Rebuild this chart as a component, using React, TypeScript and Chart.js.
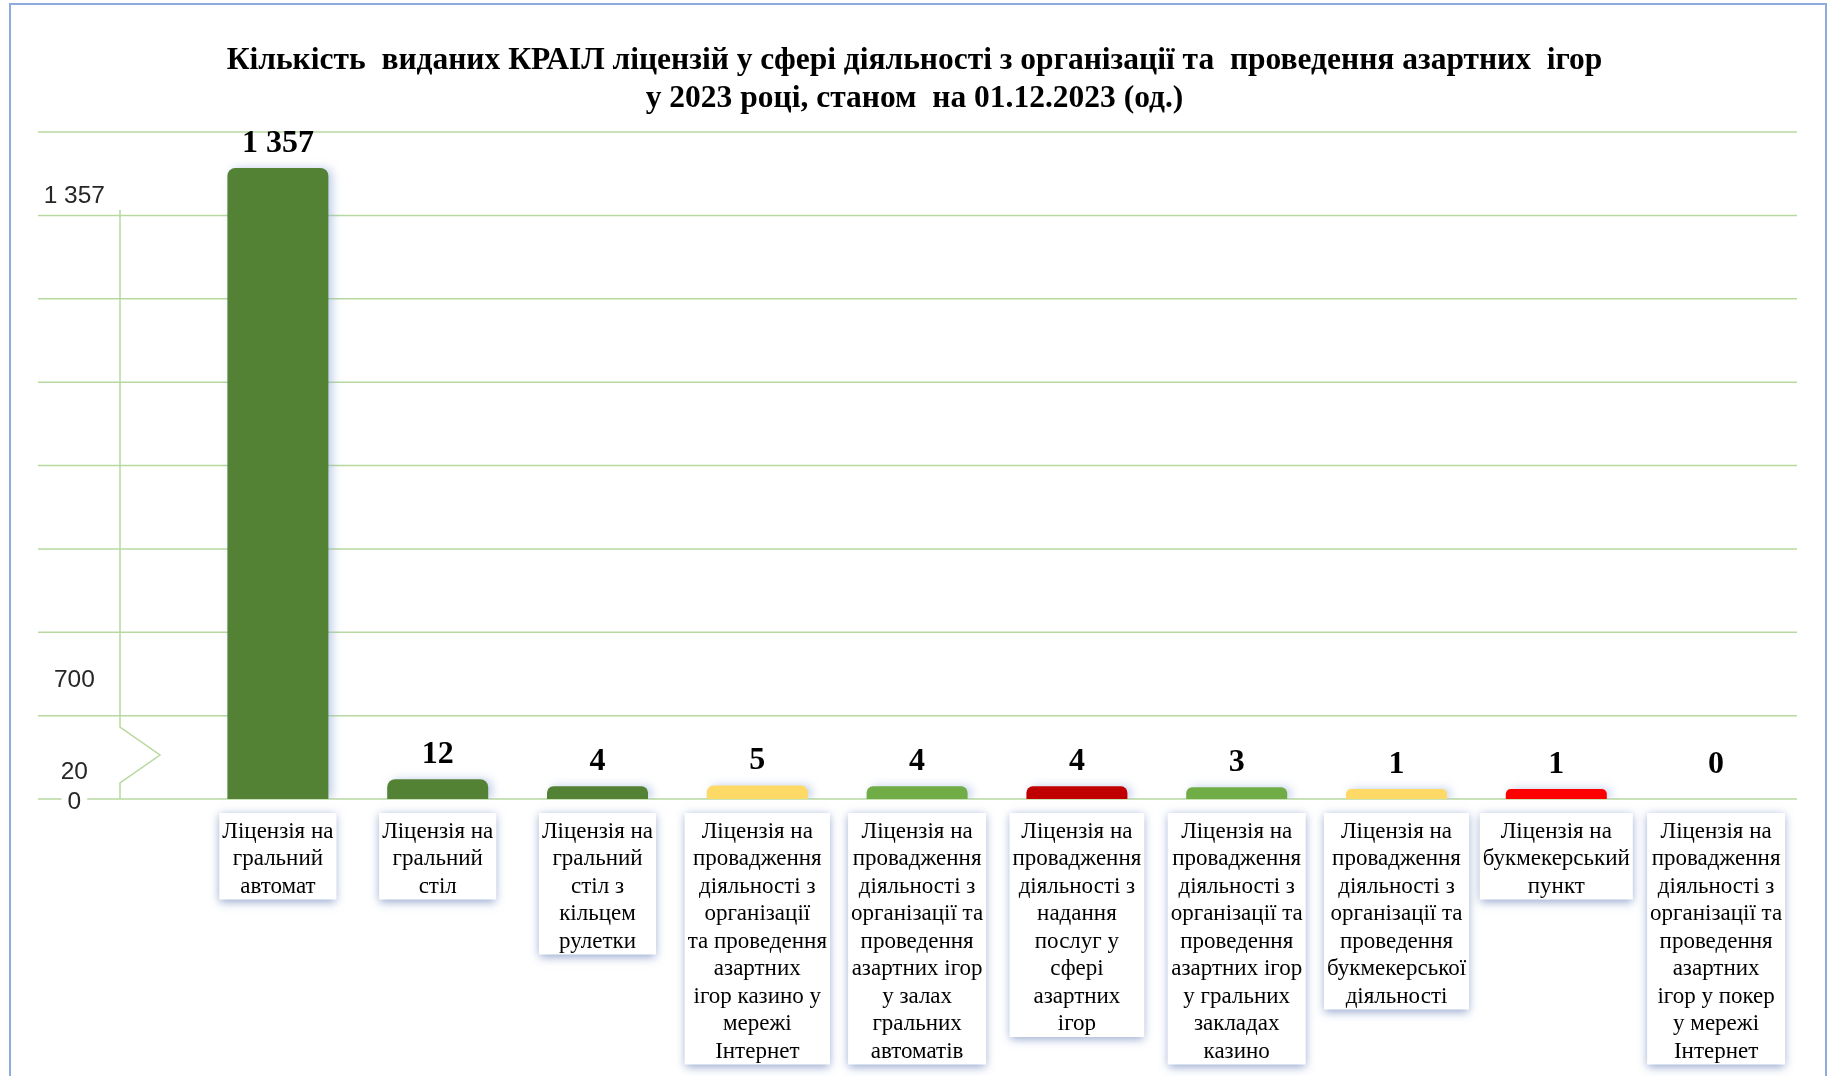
import React, { useEffect, useRef } from 'react';
import { Chart, registerables, LinearScale } from 'chart.js';

// ---------------- data ----------------
const titleLines: string[] = [
  'Кількість  виданих КРАІЛ ліцензій у сфері діяльності з організації та  проведення азартних  ігор',
  'у 2023 році, станом  на 01.12.2023 (од.)',
];

const categories: string[][] = [
  ['Ліцензія на', 'гральний', 'автомат'],
  ['Ліцензія на', 'гральний', 'стіл'],
  ['Ліцензія на', 'гральний', 'стіл з', 'кільцем', 'рулетки'],
  ['Ліцензія на', 'провадження', 'діяльності з', 'організації', 'та проведення', 'азартних', 'ігор казино у', 'мережі', 'Інтернет'],
  ['Ліцензія на', 'провадження', 'діяльності з', 'організації та', 'проведення', 'азартних ігор', 'у залах', 'гральних', 'автоматів'],
  ['Ліцензія на', 'провадження', 'діяльності з', 'надання', 'послуг у', 'сфері', 'азартних', 'ігор'],
  ['Ліцензія на', 'провадження', 'діяльності з', 'організації та', 'проведення', 'азартних ігор', 'у гральних', 'закладах', 'казино'],
  ['Ліцензія на', 'провадження', 'діяльності з', 'організації та', 'проведення', 'букмекерської', 'діяльності'],
  ['Ліцензія на', 'букмекерський', 'пункт'],
  ['Ліцензія на', 'провадження', 'діяльності з', 'організації та', 'проведення', 'азартних', 'ігор у покер', 'у мережі', 'Інтернет'],
];

const licenseCounts: number[] = [1357, 12, 4, 5, 4, 4, 3, 1, 1, 0];

const yTickValues: number[] = [0, 20, 700, 1357];

// ---------------- styles / layout ----------------
const barColors: string[] = [
  '#548235', '#548235', '#548235', '#FFD966', '#70AD47',
  '#C00000', '#70AD47', '#FFD966', '#FF0000', '#548235',
];

// broken value axis: value breakpoints and their place on the axis (fraction of its height)
const AXIS_BREAK_VALUES = [0, 1, 20, 700, 1357];
const AXIS_BREAK_FRACTIONS = [0, 0.015, 0.0405, 0.1784, 0.946];
const TICK_LABEL_SHIFT: Record<number, number> = { 0: 3, 1357: 28 };

const GRID_COLOR = '#B7D99F';
const SERIF = '"Liberation Serif", "Times New Roman", serif';
const SANS = '"Liberation Sans", Arial, sans-serif';
const X_FONT_SIZE = 23;
const X_LINE_HEIGHT = 27.5;
const X_TICK_PAD = 19;
const Y_FONT_SIZE = 24.5;

const fmt = (v: number) => String(v).replace(/\B(?=(\d{3})+(?!\d))/g, ' ');

function interp(x: number, xs: number[], ys: number[]) {
  const n = xs.length - 1;
  if (x <= xs[0]) return ys[0] + ((x - xs[0]) * (ys[1] - ys[0])) / (xs[1] - xs[0]);
  for (let i = 1; i <= n; i++) {
    if (x <= xs[i]) {
      const t = (x - xs[i - 1]) / (xs[i] - xs[i - 1]);
      return ys[i - 1] + t * (ys[i] - ys[i - 1]);
    }
  }
  return ys[n] + ((x - xs[n]) * (ys[n] - ys[n - 1])) / (xs[n] - xs[n - 1]);
}

class BrokenLinearScale extends LinearScale {
  static id = 'brokenLinear';
  static defaults = LinearScale.defaults;
  getPixelForValue(value: number) {
    if (value === null || value === undefined || isNaN(value)) return NaN;
    return this.getPixelForDecimal(interp(value, AXIS_BREAK_VALUES, AXIS_BREAK_FRACTIONS));
  }
  getValueForPixel(pixel: number) {
    return interp(this.getDecimalForPixel(pixel), AXIS_BREAK_FRACTIONS, AXIS_BREAK_VALUES);
  }
  getPixelForTick(index: number) {
    const t: any = (this as any).ticks[index];
    if (!t) return NaN;
    return this.getPixelForValue(t.value) + (TICK_LABEL_SHIFT[t.value] || 0);
  }
}

Chart.register(...registerables, BrokenLinearScale as any);

const decorPlugin = {
  id: 'decor',
  beforeDraw(chart: any) {
    const { ctx, chartArea } = chart;
    const { left, right, top, bottom } = chartArea;
    ctx.save();
    ctx.fillStyle = '#ffffff';
    ctx.fillRect(0, 0, chart.width, chart.height);

    // outer frame
    ctx.strokeStyle = '#8FAADC';
    ctx.lineWidth = 2;
    ctx.strokeRect(10, 4, chart.width - 13, chart.height + 40);

    // horizontal grid: 8 equal bands
    ctx.strokeStyle = GRID_COLOR;
    ctx.lineWidth = 1.5;
    for (let k = 0; k <= 8; k++) {
      const y = bottom - (k * (bottom - top)) / 8;
      ctx.beginPath();
      ctx.moveTo(38, y);
      ctx.lineTo(right + 1, y);
      ctx.stroke();
    }

    // broken value axis line
    const ax = left - 78;
    ctx.beginPath();
    ctx.moveTo(ax, top + 78);
    ctx.lineTo(ax, bottom - 72);
    ctx.lineTo(ax + 40, bottom - 44);
    ctx.lineTo(ax, bottom - 16);
    ctx.lineTo(ax, bottom);
    ctx.stroke();

    // category label boxes
    const xs = chart.scales.x;
    ctx.font = `${X_FONT_SIZE}px ${SERIF}`;
    categories.forEach((lines, i) => {
      const cx = xs.getPixelForTick(i);
      const w = Math.max(...lines.map((l) => ctx.measureText(l).width)) + 6;
      const y0 = xs.top + X_TICK_PAD - 5;
      const h = lines.length * X_LINE_HEIGHT + 4;
      ctx.save();
      ctx.shadowColor = 'rgba(60,95,165,0.55)';
      ctx.shadowBlur = 9;
      ctx.shadowOffsetX = 0;
      ctx.shadowOffsetY = 2;
      ctx.fillStyle = '#ffffff';
      ctx.fillRect(cx - w / 2, y0, w, h);
      ctx.restore();
    });
    ctx.restore();
  },
  beforeDatasetsDraw(chart: any) {
    const { ctx } = chart;
    ctx.save();
    ctx.shadowColor = 'rgba(140,165,215,0.55)';
    ctx.shadowBlur = 10;
    ctx.shadowOffsetX = 4;
    ctx.shadowOffsetY = 0;
  },
  afterDatasetsDraw(chart: any) {
    const { ctx } = chart;
    ctx.restore();
    const meta = chart.getDatasetMeta(0);
    ctx.save();
    ctx.font = `bold 32px ${SERIF}`;
    ctx.fillStyle = '#000';
    ctx.textAlign = 'center';
    ctx.textBaseline = 'middle';
    meta.data.forEach((bar: any, i: number) => {
      const yTop = Math.min(bar.y, bar.base - 10);
      ctx.fillText(fmt(licenseCounts[i]), bar.x, yTop - 24.5);
    });
    ctx.restore();
  },
};

export default function App() {
  const ref = useRef<HTMLCanvasElement | null>(null);

  useEffect(() => {
    if (!ref.current) return;
    const maxLines = Math.max(...categories.map((c) => c.length));
    const chart = new Chart(ref.current, {
      type: 'bar',
      data: {
        labels: categories,
        datasets: [
          {
            data: licenseCounts,
            backgroundColor: barColors,
            borderWidth: 0,
            borderRadius: 8,
            borderSkipped: 'start',
            categoryPercentage: 1,
            barPercentage: 0.632,
          },
        ],
      },
      options: {
        animation: false,
        responsive: false,
        devicePixelRatio: 1,
        layout: { padding: { left: 33, right: 33, top: 0, bottom: 10.5 } },
        plugins: {
          legend: { display: false },
          tooltip: { enabled: false },
          title: {
            display: true,
            text: titleLines,
            color: '#000',
            font: { family: SERIF, size: 31.5, weight: 'bold', lineHeight: 38 / 31.5 },
            padding: { top: 42, bottom: 14 },
          },
        },
        scales: {
          x: {
            grid: { display: false, drawTicks: false },
            border: { display: false },
            afterFit: (scale: any) => {
              scale.height = X_TICK_PAD + maxLines * X_LINE_HEIGHT;
            },
            ticks: {
              autoSkip: false,
              maxRotation: 0,
              minRotation: 0,
              padding: X_TICK_PAD,
              color: '#000',
              font: { family: SERIF, size: X_FONT_SIZE, lineHeight: X_LINE_HEIGHT / X_FONT_SIZE },
            },
          },
          y: {
            type: 'brokenLinear' as any,
            min: 0,
            max: 1357,
            grid: { display: false, drawTicks: false },
            border: { display: false },
            afterFit: (scale: any) => {
              scale.width = 165;
            },
            afterBuildTicks: (scale: any) => {
              scale.ticks = yTickValues.map((v) => ({ value: v }));
            },
            ticks: {
              crossAlign: 'center',
              padding: 93,
              color: '#262626',
              font: { family: SANS, size: Y_FONT_SIZE },
              callback: (v: any) => fmt(Number(v)),
              showLabelBackdrop: true,
              backdropColor: '#ffffff',
              backdropPadding: { x: 6, y: 2 },
            },
          },
        },
      } as any,
      plugins: [decorPlugin],
    });
    return () => chart.destroy();
  }, []);

  return (
    <div style={{ position: 'fixed', left: 0, top: 0, width: 1829, height: 1076 }}>
      <canvas ref={ref} width={1829} height={1076} style={{ display: 'block' }} />
    </div>
  );
}
